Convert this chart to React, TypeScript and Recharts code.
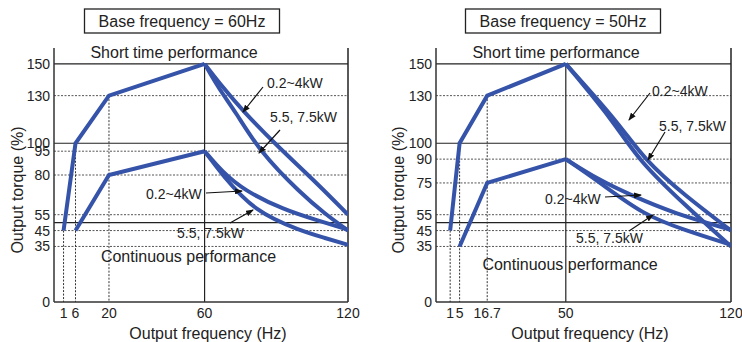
import { Line, LineChart, ReferenceLine, XAxis, YAxis } from "recharts";

// left panel: base frequency 60Hz
const leftXTicks = [1, 6, 20, 60, 120];
const leftYTicks = [0, 35, 45, 55, 80, 95, 100, 130, 150];
const leftDotted = [35, 45, 55, 80, 95, 130];

const leftShortRiseHz = [1, 6, 20, 60];
const leftShortRiseTq = [45, 100, 130, 150];
const leftShortSmallHz = [60, 67.4, 76.3, 90.7, 107.1, 120];
const leftShortSmallTq = [150, 135.6, 119.9, 97.8, 74.7, 55];
const leftShortLargeHz = [60, 66.1, 72.9, 83.1, 100.3, 110, 120];
const leftShortLargeTq = [150, 134, 120, 94.6, 68.4, 56, 45];

const leftContRiseHz = [6, 20, 60];
const leftContRiseTq = [45, 80, 95];
const leftContSmallHz = [60, 67.4, 76.3, 93.4, 107.1, 120];
const leftContSmallTq = [95, 82, 70.5, 57.9, 51.5, 45.5];
const leftContLargeHz = [60, 67.4, 81.1, 100.3, 110, 120];
const leftContLargeTq = [95, 80, 56.8, 44.8, 40.5, 36];

// right panel: base frequency 50Hz
const rightXTicks = [1, 5, 16.7, 50, 120];
const rightYTicks = [0, 35, 45, 55, 75, 90, 100, 130, 150];
const rightDotted = [35, 45, 55, 75, 90, 130];

const rightShortRiseHz = [1, 5, 16.7, 50];
const rightShortRiseTq = [45, 100, 130, 150];
const rightShortSmallHz = [50, 72, 83.4, 100.5, 120];
const rightShortSmallTq = [150, 113.6, 89.4, 67, 45];
const rightShortLargeHz = [50, 70.4, 80.7, 100.5, 120];
const rightShortLargeTq = [150, 113.6, 89.4, 61, 35];

const rightContRiseHz = [5, 16.7, 50];
const rightContRiseTq = [35, 75, 90];
const rightContSmallHz = [50, 64.1, 77.6, 95.8, 120];
const rightContSmallTq = [90, 76.8, 67.3, 55.8, 45.5];
const rightContLargeHz = [50, 64.1, 83.1, 100.5, 120];
const rightContLargeTq = [90, 75.7, 54.7, 45.2, 36];

const solidGrid = [50, 100, 150];

const BLUE = "#3553a8";
const FONT = "'Liberation Sans', Arial, sans-serif";

function pts(hz: number[], tq: number[]) {
  return hz.map((f, i) => ({ f, t: tq[i] }));
}

interface PanelProps {
  xTicks: number[];
  yTicks: number[];
  dotted: number[];
  xMin: number;
  base: number;
  drops: { x: number; y: number }[];
  series: { hz: number[]; tq: number[]; smooth: boolean }[];
  marginLeft: number;
  marginRight: number;
}

function Panel(p: PanelProps) {
  return (
    <LineChart
      width={371}
      height={342}
      margin={{ top: 48, right: p.marginRight, bottom: 10, left: p.marginLeft }}
    >
      <XAxis
        dataKey="f"
        type="number"
        domain={[p.xMin, 120]}
        ticks={p.xTicks}
        allowDataOverflow
        interval={0}
        tickSize={0}
        tickMargin={6}
        height={30}
        tick={{ fill: "#222", fontSize: 14, fontFamily: FONT }}
        axisLine={{ stroke: "#333", strokeWidth: 1.5 }}
      />
      <YAxis
        dataKey="t"
        type="number"
        domain={[0, 160]}
        ticks={p.yTicks}
        interval={0}
        tickSize={0}
        tickMargin={4}
        width={40}
        tick={{ fill: "#222", fontSize: 14, fontFamily: FONT }}
        axisLine={{ stroke: "#333", strokeWidth: 1.5 }}
      />
      {p.dotted.map((v) => (
        <ReferenceLine
          key={"d" + v}
          y={v}
          stroke="#555"
          strokeWidth={1}
          strokeDasharray="2 1.5"
        />
      ))}
      {solidGrid.map((v) => (
        <ReferenceLine key={"s" + v} y={v} stroke="#222" strokeWidth={1.2} />
      ))}
      {p.drops.map((d) => (
        <ReferenceLine
          key={"v" + d.x}
          segment={[
            { x: d.x, y: d.y },
            { x: d.x, y: 0 },
          ]}
          stroke="#333"
          strokeWidth={1}
          strokeDasharray="2 1.5"
        />
      ))}
      <ReferenceLine
        segment={[
          { x: p.base, y: 150 },
          { x: p.base, y: 0 },
        ]}
        stroke="#222"
        strokeWidth={1.2}
      />
      <ReferenceLine x={120} stroke="#222" strokeWidth={1.5} />
      {p.series.map((s, i) => (
        <Line
          key={i}
          data={pts(s.hz, s.tq)}
          dataKey="t"
          type={s.smooth ? "basis" : "linear"}
          stroke={BLUE}
          strokeWidth={4}
          dot={false}
          activeDot={false}
          isAnimationActive={false}
        />
      ))}
    </LineChart>
  );
}

function Arrow({ x1, y1, x2, y2 }: { x1: number; y1: number; x2: number; y2: number }) {
  return (
    <line
      x1={x1}
      y1={y1}
      x2={x2}
      y2={y2}
      stroke="#111"
      strokeWidth={1.2}
      markerEnd="url(#arrowHead)"
    />
  );
}

function Overlay() {
  const txt = { fontFamily: FONT, fill: "#222" };
  return (
    <svg
      width={742}
      height={342}
      style={{ position: "absolute", left: 0, top: 0, pointerEvents: "none" }}
    >
      <defs>
        <marker
          id="arrowHead"
          markerWidth="8"
          markerHeight="6"
          refX="7"
          refY="3"
          orient="auto"
          markerUnits="userSpaceOnUse"
        >
          <path d="M0,0 L8,3 L0,6 Z" fill="#111" />
        </marker>
      </defs>

      <rect x={84.5} y={9} width={195} height={24} fill="#fff" stroke="#222" strokeWidth={1.3} />
      <text x={182} y={27} textAnchor="middle" fontSize={16} {...txt}>
        Base frequency = 60Hz
      </text>
      <rect x={465.5} y={9} width={195} height={24} fill="#fff" stroke="#222" strokeWidth={1.3} />
      <text x={563} y={27} textAnchor="middle" fontSize={16} {...txt}>
        Base frequency = 50Hz
      </text>

      <text x={174} y={58} textAnchor="middle" fontSize={16} {...txt}>
        Short time performance
      </text>
      <text x={556} y={58} textAnchor="middle" fontSize={16} {...txt}>
        Short time performance
      </text>
      <text x={188.5} y={262} textAnchor="middle" fontSize={16} {...txt}>
        Continuous performance
      </text>
      <text x={570} y={270} textAnchor="middle" fontSize={16} {...txt}>
        Continuous performance
      </text>

      <text x={208} y={339} textAnchor="middle" fontSize={16} {...txt}>
        Output frequency (Hz)
      </text>
      <text x={590} y={339} textAnchor="middle" fontSize={16} {...txt}>
        Output frequency (Hz)
      </text>
      <text
        x={0}
        y={0}
        transform="translate(23,190) rotate(-90)"
        textAnchor="middle"
        fontSize={16}
        {...txt}
      >
        Output torque (%)
      </text>
      <text
        x={0}
        y={0}
        transform="translate(404,190) rotate(-90)"
        textAnchor="middle"
        fontSize={16}
        {...txt}
      >
        Output torque (%)
      </text>

      <text x={267} y={88} fontSize={14} {...txt}>0.2~4kW</text>
      <text x={270} y={122} fontSize={14} {...txt}>5.5, 7.5kW</text>
      <text x={146} y={199} fontSize={14} {...txt}>0.2~4kW</text>
      <text x={177} y={238} fontSize={14} {...txt}>5.5, 7.5kW</text>
      <Arrow x1={263} y1={87} x2={243} y2={112} />
      <Arrow x1={280} y1={130} x2={259} y2={153} />
      <Arrow x1={206} y1={193} x2={242} y2={191} />
      <Arrow x1={230} y1={223} x2={253} y2={210} />

      <text x={652} y={96} fontSize={14} {...txt}>0.2~4kW</text>
      <text x={659} y={131} fontSize={14} {...txt}>5.5, 7.5kW</text>
      <text x={545} y={204} fontSize={14} {...txt}>0.2~4kW</text>
      <text x={576} y={243} fontSize={14} {...txt}>5.5, 7.5kW</text>
      <Arrow x1={650} y1={93} x2={629} y2={120} />
      <Arrow x1={665} y1={132} x2={648} y2={160} />
      <Arrow x1={605} y1={197} x2={641} y2={195} />
      <Arrow x1={629} y1={231} x2={653} y2={215} />
    </svg>
  );
}

export default function App() {
  return (
    <div
      style={{
        position: "absolute",
        left: 0,
        top: 0,
        width: 742,
        height: 342,
        background: "#fff",
      }}
    >
      <div style={{ position: "absolute", left: 0, top: 0 }}>
        <Panel
          xTicks={leftXTicks}
          yTicks={leftYTicks}
          dotted={leftDotted}
          xMin={-3}
          base={60}
          drops={[
            { x: 1, y: 45 },
            { x: 6, y: 100 },
            { x: 20, y: 130 },
          ]}
          series={[
            { hz: leftShortRiseHz, tq: leftShortRiseTq, smooth: false },
            { hz: leftShortSmallHz, tq: leftShortSmallTq, smooth: true },
            { hz: leftShortLargeHz, tq: leftShortLargeTq, smooth: true },
            { hz: leftContRiseHz, tq: leftContRiseTq, smooth: false },
            { hz: leftContSmallHz, tq: leftContSmallTq, smooth: true },
            { hz: leftContLargeHz, tq: leftContLargeTq, smooth: true },
          ]}
          marginLeft={14}
          marginRight={23}
        />
      </div>
      <div style={{ position: "absolute", left: 371, top: 0 }}>
        <Panel
          xTicks={rightXTicks}
          yTicks={rightYTicks}
          dotted={rightDotted}
          xMin={-5}
          base={50}
          drops={[
            { x: 1, y: 45 },
            { x: 5, y: 100 },
            { x: 16.7, y: 130 },
          ]}
          series={[
            { hz: rightShortRiseHz, tq: rightShortRiseTq, smooth: false },
            { hz: rightShortSmallHz, tq: rightShortSmallTq, smooth: true },
            { hz: rightShortLargeHz, tq: rightShortLargeTq, smooth: true },
            { hz: rightContRiseHz, tq: rightContRiseTq, smooth: false },
            { hz: rightContSmallHz, tq: rightContSmallTq, smooth: true },
            { hz: rightContLargeHz, tq: rightContLargeTq, smooth: true },
          ]}
          marginLeft={25}
          marginRight={11}
        />
      </div>
      <Overlay />
    </div>
  );
}
